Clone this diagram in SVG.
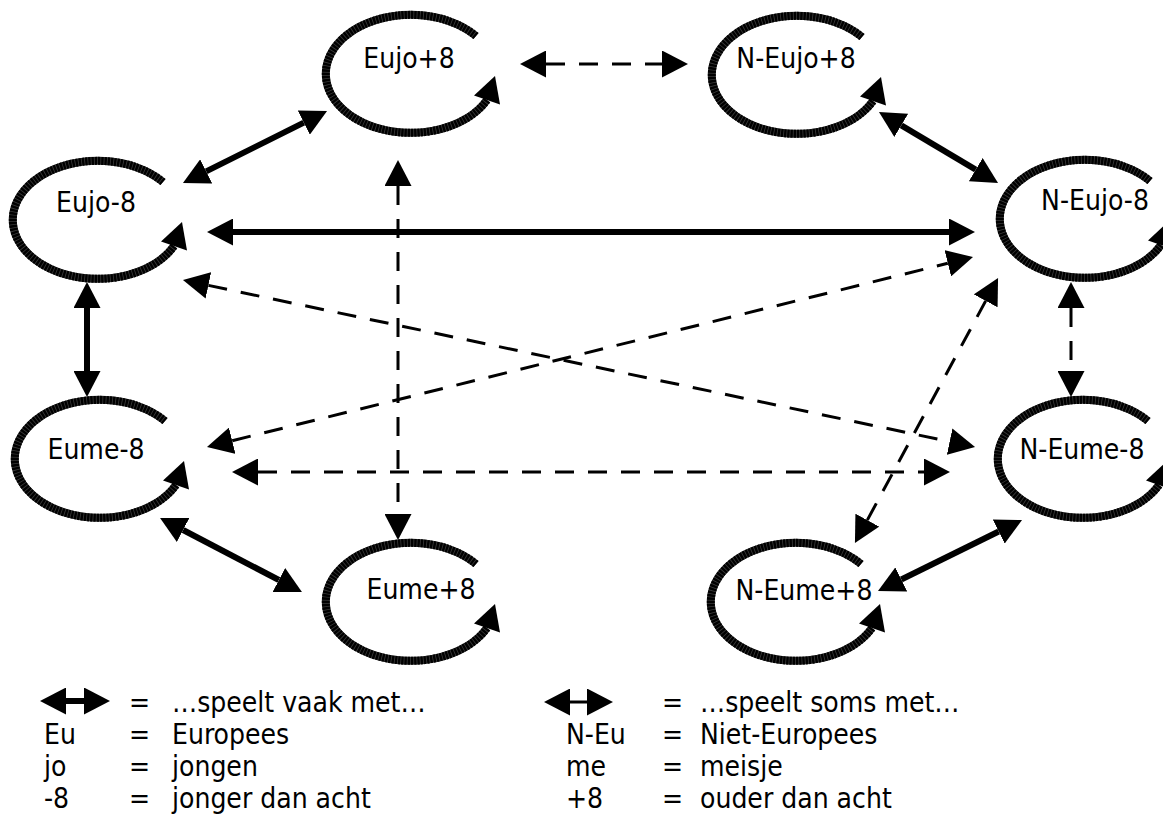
<svg xmlns="http://www.w3.org/2000/svg" width="1163" height="820" viewBox="0 0 1163 820">
<style>
.t{font-family:"DejaVu Sans Condensed","DejaVu Sans",sans-serif;font-stretch:condensed;font-size:28px;fill:#000}
.nt{text-anchor:middle}
.ringb{fill:none;stroke:#3a3a3a;stroke-width:8}
.ring{fill:none;stroke:#000;stroke-width:8;stroke-dasharray:2.4 0.8}
.head{fill:#000}
.solid{stroke:#000;stroke-width:6;fill:none;marker-start:url(#ah);marker-end:url(#ah)}
.dash{stroke:#000;stroke-width:3;stroke-dasharray:19 14;fill:none;marker-start:url(#ah);marker-end:url(#ah)}
.thin{stroke:#000;stroke-width:3;fill:none;marker-start:url(#ah);marker-end:url(#ah)}
</style>
<defs>
<marker id="ah" markerUnits="userSpaceOnUse" viewBox="0 0 26 27" refX="0" refY="13.5" markerWidth="26" markerHeight="27" orient="auto-start-reverse"><path d="M0,0 L26,13.5 L0,27 Z" fill="#000"/></marker>
<g id="loop">
<path class="ringb" d="M65,-38 A85,59 0 1 0 76,26"/>
<path class="ring" d="M65,-38 A85,59 0 1 0 76,26"/>
<polygon class="head" points="84,2 63,21.5 89,30.5"/>
</g>
</defs>
<rect width="1163" height="820" fill="#fff"/>

<g id="connectors">
<line class="dash" x1="546" y1="64" x2="662" y2="64"/>
<line class="solid" x1="303.8" y1="122.6" x2="206.2" y2="171.4"/>
<line class="solid" x1="901.3" y1="125.3" x2="975.7" y2="169.7"/>
<line class="solid" x1="233" y1="232" x2="949" y2="232"/>
<line class="dash" x1="398" y1="186" x2="398" y2="514"/>
<line class="dash" x1="208.4" y1="285.4" x2="949.6" y2="441.6"/>
<line class="dash" x1="232.2" y1="440.7" x2="947.8" y2="263.3"/>
<line class="solid" x1="87" y1="308" x2="87" y2="371"/>
<line class="dash" x1="258" y1="472" x2="924" y2="472"/>
<line class="dash" x1="867.3" y1="520.1" x2="985.7" y2="300.9"/>
<line class="dash" x1="1071" y1="308" x2="1071" y2="371"/>
<line class="solid" x1="183.1" y1="530" x2="278.9" y2="580"/>
<line class="solid" x1="901.3" y1="579.5" x2="998.7" y2="531.5"/>
</g>

<g id="node-eujo-plus8"><use href="#loop" x="411" y="74"/><text class="t nt" x="409" y="68">Eujo+8</text></g>
<g id="node-neujo-plus8"><use href="#loop" x="797" y="75"/><text class="t nt" x="796" y="68">N-Eujo+8</text></g>
<g id="node-eujo-min8"><use href="#loop" x="98" y="220"/><text class="t nt" x="96" y="212">Eujo-8</text></g>
<g id="node-neujo-min8"><use href="#loop" x="1085" y="219"/><text class="t nt" x="1095" y="210">N-Eujo-8</text></g>
<g id="node-eume-min8"><use href="#loop" x="100" y="459"/><text class="t nt" x="96" y="459">Eume-8</text></g>
<g id="node-neume-min8"><use href="#loop" x="1083" y="459"/><text class="t nt" x="1082" y="459">N-Eume-8</text></g>
<g id="node-eume-plus8"><use href="#loop" x="411" y="602"/><text class="t nt" x="421" y="599">Eume+8</text></g>
<g id="node-neume-plus8"><use href="#loop" x="796" y="602"/><text class="t nt" x="804" y="600">N-Eume+8</text></g>

<g id="legend">
<line class="solid" x1="66" y1="701" x2="84" y2="701"/>
<text class="t" x="129" y="712">=</text>
<text class="t" x="172" y="712">…speelt vaak met…</text>
<text class="t" x="44" y="744">Eu</text>
<text class="t" x="129" y="744">=</text>
<text class="t" x="172" y="744">Europees</text>
<text class="t" x="44" y="776">jo</text>
<text class="t" x="129" y="776">=</text>
<text class="t" x="172" y="776">jongen</text>
<text class="t" x="44" y="808">-8</text>
<text class="t" x="129" y="808">=</text>
<text class="t" x="172" y="808">jonger dan acht</text>

<line class="thin" x1="570" y1="702" x2="587" y2="702"/>
<text class="t" x="662" y="712">=</text>
<text class="t" x="700" y="712">…speelt soms met…</text>
<text class="t" x="566" y="744">N-Eu</text>
<text class="t" x="662" y="744">=</text>
<text class="t" x="700" y="744">Niet-Europees</text>
<text class="t" x="566" y="776">me</text>
<text class="t" x="662" y="776">=</text>
<text class="t" x="700" y="776">meisje</text>
<text class="t" x="566" y="808">+8</text>
<text class="t" x="662" y="808">=</text>
<text class="t" x="700" y="808">ouder dan acht</text>
</g>
</svg>
